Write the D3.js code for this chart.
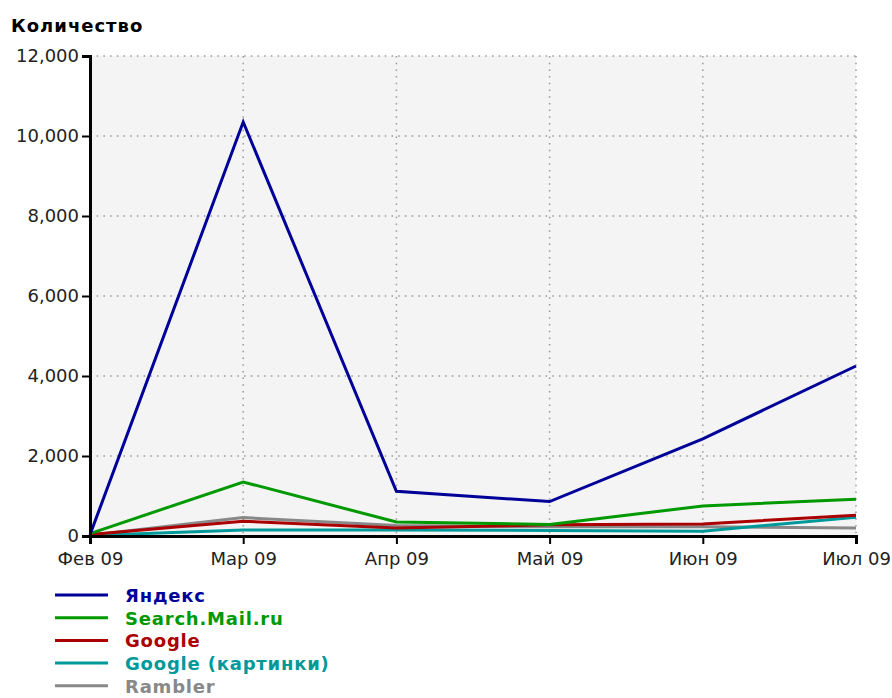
<!DOCTYPE html>
<html>
<head>
<meta charset="utf-8">
<script src="https://cdn.jsdelivr.net/npm/d3@7"></script>
<style>
  body { margin: 0; background: #fff; }
  svg text { font-family: "DejaVu Sans", Verdana, sans-serif; }
</style>
</head>
<body>
<div id="chart"></div>
<script>
const months = ["Фев 09", "Мар 09", "Апр 09", "Май 09", "Июн 09", "Июл 09"];
const yTicks = [0, 2000, 4000, 6000, 8000, 10000, 12000];

const yandex = [30, 10350, 1120, 860, 2430, 4250];
const mail = [60, 1350, 350, 290, 750, 920];
const google = [40, 370, 200, 280, 300, 520];
const googleImg = [10, 150, 150, 140, 120, 470];
const rambler = [20, 460, 260, 230, 230, 200];

const seriesNames = ["Яндекс", "Search.Mail.ru", "Google", "Google (картинки)", "Rambler"];
const seriesColors = ["#000099", "#009900", "#aa0000", "#009999", "#888888"];
const seriesValues = [yandex, mail, google, googleImg, rambler];

const width = 892, height = 698;
const margin = { top: 56, right: 36, bottom: 162, left: 90 };
const innerWidth = width - margin.left - margin.right;
const innerHeight = height - margin.top - margin.bottom;

const svg = d3.select("#chart").append("svg")
    .attr("width", width)
    .attr("height", height);

const g = svg.append("g")
    .attr("transform", `translate(${margin.left},${margin.top})`);

const x = d3.scalePoint()
    .domain(months)
    .range([0, innerWidth]);
const y = d3.scaleLinear()
    .domain([0, 12000])
    .range([innerHeight, 0]);

// fond du graphique
g.append("rect")
    .attr("width", innerWidth)
    .attr("height", innerHeight)
    .attr("fill", "#f4f4f4");

// grille pointillée
g.selectAll(".hgrid")
    .data(yTicks.filter(d => d > 0))
    .join("line")
    .attr("x1", 0).attr("x2", innerWidth)
    .attr("y1", d => y(d)).attr("y2", d => y(d))
    .attr("stroke", "#999").attr("stroke-width", 1.5)
    .attr("stroke-dasharray", "1.5,5.2");
g.selectAll(".vgrid")
    .data(months.slice(1))
    .join("line")
    .attr("x1", d => x(d)).attr("x2", d => x(d))
    .attr("y1", 0).attr("y2", innerHeight)
    .attr("stroke", "#999").attr("stroke-width", 1.5)
    .attr("stroke-dasharray", "1.5,5.2");

// lignes (la première série dessinée en dernier, au-dessus)
const line = d3.line()
    .x((d, i) => x(months[i]))
    .y(d => y(d));

seriesValues.slice().reverse().forEach((vals, k) => {
    const idx = seriesValues.length - 1 - k;
    g.append("path")
        .datum(vals)
        .attr("fill", "none")
        .attr("stroke", seriesColors[idx])
        .attr("stroke-width", 3)
        .attr("d", line);
});

// axes
const xAxis = g.append("g")
    .attr("transform", `translate(0,${innerHeight})`)
    .call(d3.axisBottom(x).tickSize(8).tickPadding(8));
const yAxis = g.append("g")
    .call(d3.axisLeft(y).tickValues(yTicks).tickFormat(d3.format(",")).tickSize(8).tickPadding(3));

[xAxis, yAxis].forEach(a => {
    a.select(".domain").attr("stroke", "#000").attr("stroke-width", 3);
    a.selectAll(".tick line").attr("stroke", "#000").attr("stroke-width", 2);
    a.selectAll(".tick text")
        .attr("fill", "#222")
        .style("font-size", "18px");
});

// titre de l'axe
svg.append("text")
    .attr("x", 11)
    .attr("y", 32)
    .text("Количество")
    .style("font-size", "18px")
    .style("font-weight", "bold")
    .style("letter-spacing", "1px")
    .attr("fill", "#000");

// légende
const legend = svg.append("g")
    .attr("transform", "translate(55,595)");
seriesNames.forEach((name, i) => {
    legend.append("line")
        .attr("x1", 0).attr("x2", 53)
        .attr("y1", i * 22.7).attr("y2", i * 22.7)
        .attr("stroke", seriesColors[i])
        .attr("stroke-width", 3);
    legend.append("text")
        .attr("x", 70)
        .attr("y", i * 22.7 + 7)
        .text(name)
        .attr("fill", seriesColors[i])
        .style("font-size", "18px")
        .style("font-weight", "bold")
        .style("letter-spacing", "0.8px");
});
</script>
</body>
</html>
